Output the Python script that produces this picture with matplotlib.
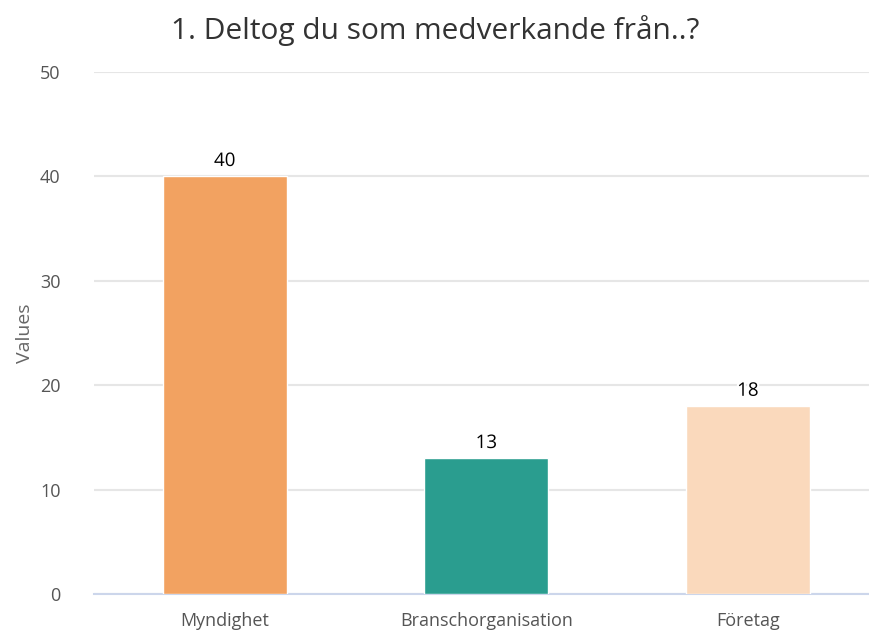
import matplotlib
matplotlib.use("Agg")
import matplotlib.pyplot as plt
import matplotlib.patheffects as pe

categories = ["Myndighet", "Branschorganisation", "Företag"]
values = [40, 13, 18]
colors = ["#F2A261", "#2A9D8F", "#FAD9BC"]
yticks = [0, 10, 20, 30, 40, 50]
title = "1. Deltog du som medverkande från..?"

plt.rcParams['font.family'] = ['Open Sans', 'DejaVu Sans']

fig = plt.figure(figsize=(8.7, 6.3), dpi=100)
ax = fig.add_axes([0.108, 0.057, 0.902, 0.829])

x = list(range(len(categories)))
bars = ax.bar(x, values, width=0.475, color=colors, edgecolor="white", linewidth=1, zorder=3)
for xi, v in zip(x, values):
    ax.text(xi, v + 0.6, str(v), ha="center", va="bottom", fontsize=13.5, color="black",
            fontweight="medium",
            path_effects=[pe.withStroke(linewidth=3, foreground="white")], zorder=4)

ax.set_xlim(-0.5, len(categories) - 0.5)
ax.set_ylim(0, 50)
ax.set_yticks(yticks)
ax.set_xticks(x)
ax.set_xticklabels(categories)
ax.tick_params(axis="both", length=0, colors="#555555", labelsize=13)
ax.tick_params(axis="y", pad=24)
ax.tick_params(axis="x", pad=13)
ax.yaxis.grid(True, color="#e6e6e6", linewidth=1.5, zorder=0)
for s in ["top", "right", "left"]:
    ax.spines[s].set_visible(False)
ax.spines["bottom"].set_color("#ccd6eb")
ax.spines["bottom"].set_linewidth(1.5)
ax.set_ylabel("Values", color="#666666", fontsize=14, labelpad=4)
fig.text(0.5, 0.952, title, ha="center", va="center", fontsize=21.5, color="#333333")

fig.savefig("out.png", dpi=100)
